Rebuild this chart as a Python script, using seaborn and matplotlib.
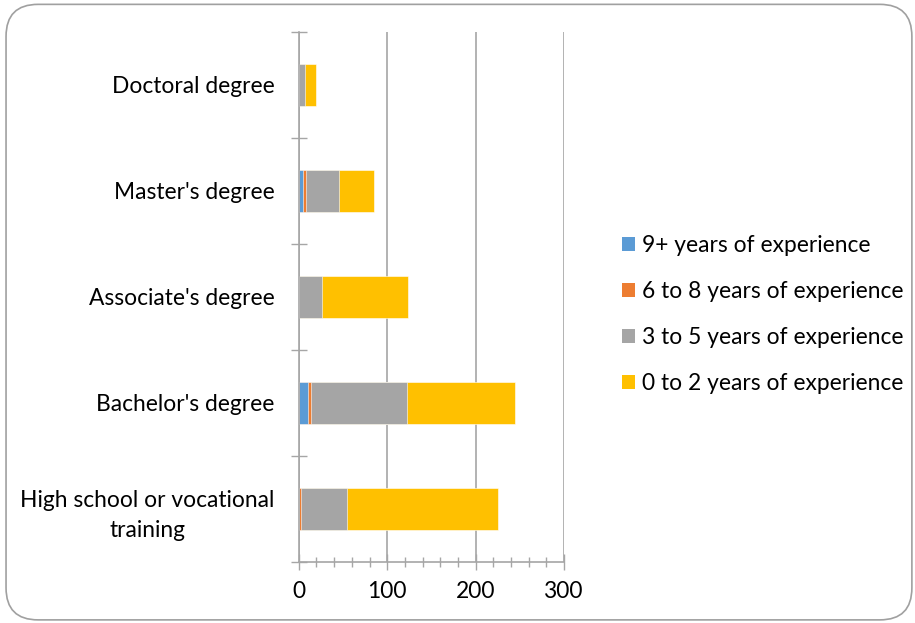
import seaborn as sns
import matplotlib.pyplot as plt
import pandas as pd
from matplotlib.patches import FancyBboxPatch, Patch
from matplotlib.ticker import MultipleLocator

# values (counts of people)
degrees = [
    "Doctoral degree",
    "Master's degree",
    "Associate's degree",
    "Bachelor's degree",
    "High school or vocational\ntraining",
]
nine_plus = [0, 5, 0, 10, 0]
six_to_eight = [0, 3, 0, 4, 2]
three_to_five = [7, 37, 26, 108, 52]
zero_to_two = [12, 40, 97, 123, 171]

series_names = [
    "9+ years of experience",
    "6 to 8 years of experience",
    "3 to 5 years of experience",
    "0 to 2 years of experience",
]
colors = ["#5B9BD5", "#ED7D31", "#A5A5A5", "#FFC000"]

x_ticks = [0, 100, 200, 300]

sns.set_style("white")
plt.rcParams["font.family"] = ["Lato", "DejaVu Sans"]
plt.rcParams["text.color"] = "black"
FS = 16.4

df = pd.DataFrame({
    "degree": degrees,
    "s0": nine_plus,
    "s1": six_to_eight,
    "s2": three_to_five,
    "s3": zero_to_two,
})
# cumulative stacks, drawn from the longest down so the shorter ones sit on top
df["c0"] = df["s0"]
df["c1"] = df["c0"] + df["s1"]
df["c2"] = df["c1"] + df["s2"]
df["c3"] = df["c2"] + df["s3"]

fig = plt.figure(figsize=(9.15, 6.23), dpi=100)
ax = fig.add_axes([0.3265, 0.098, 0.29, 0.851])

for i in [3, 2, 1, 0]:
    sns.barplot(
        data=df, x=f"c{i}", y="degree", color=colors[i], width=0.4,
        orient="h", errorbar=None, saturation=1, ax=ax,
        edgecolor="white", linewidth=0.4,
    )

grid_c = "#A6A6A6"
ax.set_xlim(0, 300)
ax.set_ylim(4.5, -0.5)
ax.set_xticks(x_ticks)
ax.xaxis.set_minor_locator(MultipleLocator(20))
ax.set_yticks(range(len(degrees)))
ax.set_yticks([i - 0.5 for i in range(len(degrees) + 1)], minor=True)
ax.set_xlabel("")
ax.set_ylabel("")
ax.grid(axis="x", color=grid_c, linewidth=1.2)
ax.set_axisbelow(True)

for s in ["top", "right"]:
    ax.spines[s].set_visible(False)
for s in ["left", "bottom"]:
    ax.spines[s].set_color(grid_c)
    ax.spines[s].set_linewidth(1.2)

ax.tick_params(axis="y", which="major", direction="inout", length=8.6, width=1.0,
               color=grid_c, labelsize=FS, pad=13, labelcolor="black")
ax.tick_params(axis="y", which="minor", direction="inout", length=11.5, width=1.0,
               color=grid_c, left=True)
ax.tick_params(axis="x", which="major", direction="inout", length=11, width=1.0,
               color=grid_c, labelsize=FS, pad=8, labelcolor="black", bottom=True)
ax.tick_params(axis="x", which="minor", direction="inout", length=7, width=1.0,
               color=grid_c, bottom=True)
for lab in ax.get_yticklabels():
    lab.set_multialignment("center")
    lab.set_linespacing(1.55)

handles = [Patch(facecolor=c, edgecolor="none") for c in colors]
fig.legend(
    handles, series_names, loc="center left", bbox_to_anchor=(0.657, 0.495),
    frameon=False, fontsize=FS, handlelength=0.6, handleheight=0.6,
    handletextpad=0.3, labelspacing=1.1, labelcolor="black",
)

# rounded slide-style frame around the chart
frame = FancyBboxPatch(
    (0.0066, 0.005), 0.99, 0.988, boxstyle="round,pad=0,rounding_size=0.035",
    transform=fig.transFigure, facecolor="none", edgecolor="#A0A0A0",
    linewidth=1.2, mutation_aspect=915 / 623,
)
fig.patches.append(frame)

fig.savefig("out.png", dpi=100)
